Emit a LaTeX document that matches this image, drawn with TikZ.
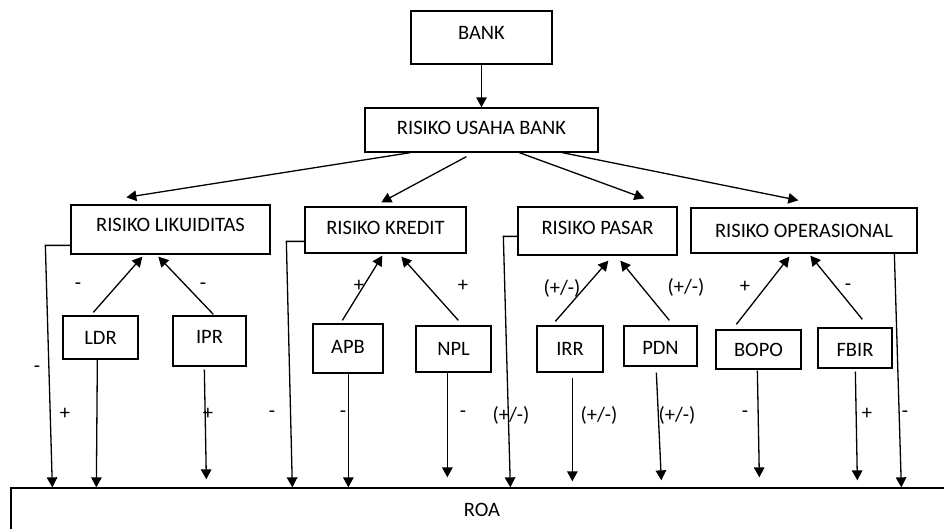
\documentclass[tikz,border=0pt]{standalone}
\usepackage{fontspec}
\setmainfont{Carlito}
\usetikzlibrary{arrows.meta}
\begin{document}
\begin{tikzpicture}[x=1pt,y=-1pt,
  box/.style={draw, line width=1.3pt, inner sep=0pt, font=\fontsize{20.5}{24}\selectfont},
  lbl/.style={inner sep=0pt, font=\fontsize{20.5}{24}\selectfont},
  arr/.style={line width=1.3pt, -{Triangle[length=10pt,width=10.5pt]}},
  ln/.style={line width=1.3pt}]
\clip (0,0) rectangle (944,528);
% boxes
\node[box, minimum width=141pt, minimum height=53pt, text depth=9pt] (bank) at (481.5,37.5) {BANK};
\node[box, minimum width=233pt, minimum height=44pt, text depth=4pt] (rub) at (481.5,130) {RISIKO USAHA BANK};
\node[box, minimum width=199pt, minimum height=49pt, text depth=9pt] (lik) at (170.5,229.5) {RISIKO LIKUIDITAS};
\node[box, minimum width=161pt, minimum height=46pt, text depth=4pt] (kre) at (385.5,230) {RISIKO KREDIT};
\node[box, minimum width=159pt, minimum height=48pt, text depth=6pt] (pas) at (597.5,231) {RISIKO PASAR};
\node[box, minimum width=226pt, minimum height=45pt] (ope) at (804,230.5) {RISIKO OPERASIONAL};
\node[box, minimum width=75pt, minimum height=43pt] (ldr) at (100.5,337.5) {LDR};
\node[box, minimum width=73pt, minimum height=50pt, text depth=8pt] (ipr) at (209.5,341) {IPR};
\node[box, minimum width=70pt, minimum height=49pt, text depth=4pt] (apb) at (348,348.5) {APB};
\node[box, minimum width=75pt, minimum height=46pt] (npl) at (453.5,349) {NPL};
\node[box, minimum width=66pt, minimum height=46pt] (irr) at (570,349) {IRR};
\node[box, minimum width=73pt, minimum height=40pt, text height=17pt] (pdn) at (660.5,346) {PDN};
\node[box, minimum width=85pt, minimum height=39pt] (bopo) at (758.5,349.5) {BOPO};
\node[box, minimum width=74pt, minimum height=40pt, text height=16pt] (fbir) at (855,348) {FBIR};
\node[box, minimum width=942pt, minimum height=44pt] (roa) at (482,510) {ROA};
% top arrows
\draw[arr] (bank.south) -- (rub.north);
\draw[arr] ([xshift=46pt]rub.south west) -- ([xshift=56pt,yshift=7pt]lik.north west);
\draw[arr] ([xshift=102pt,yshift=-4pt]rub.south west) -- ([xshift=77pt,yshift=4pt]kre.north west);
\draw[arr] ([xshift=155pt]rub.south west) -- ([xshift=127pt,yshift=8pt]pas.north west);
\draw[arr] ([xshift=198pt]rub.south west) -- ([xshift=108pt,yshift=7pt]ope.north west);
% level 3 -> level 2
\draw[arr] ([xshift=31pt,yshift=3pt]ldr.north west) -- ([xshift=72pt,yshift=-2pt]lik.south west);
\draw[arr] ([xshift=41pt,yshift=1pt]ipr.north west) -- ([xshift=88pt,yshift=-2pt]lik.south west);
\draw[arr] ([xshift=30pt,yshift=3pt]apb.north west) -- ([xshift=78pt,yshift=-2pt]kre.south west);
\draw[arr] ([xshift=43pt,yshift=5pt]npl.north west) -- ([xshift=97pt,yshift=-3pt]kre.south west);
\draw[arr] ([xshift=19pt,yshift=4pt]irr.north west) -- ([xshift=91pt,yshift=-5pt]pas.south west);
\draw[arr] ([xshift=46pt,yshift=5pt]pdn.north west) -- ([xshift=103pt,yshift=-5pt]pas.south west);
\draw[arr] ([xshift=21pt,yshift=5pt]bopo.north west) -- ([xshift=99pt,yshift=-3pt]ope.south west);
\draw[arr] ([xshift=45pt,yshift=8pt]fbir.north west) -- ([xshift=120pt,yshift=-2pt]ope.south west);
% down arrows to ROA
\draw[arr] ([yshift=-41pt]lik.north west) -- ++(-25,0) -- ([xshift=42pt]roa.north west);
\draw[arr] ([xshift=35pt]ldr.south west) -- ([xshift=86pt]roa.north west);
\draw[arr] ([xshift=32pt,yshift=-3pt]ipr.south west) -- ([xshift=196pt,yshift=8pt]roa.north west);
\draw[arr] ([yshift=-35pt]kre.north west) -- ++(-18,0) -- ([xshift=282pt]roa.north west);
\draw[arr] ([xshift=36pt]apb.south west) -- ([xshift=338pt]roa.north west);
\draw[arr] ([xshift=32pt]npl.south west) -- ([xshift=437pt,yshift=10pt]roa.north west);
\draw[arr] ([yshift=-30pt]pas.north west) -- ++(-14,0) -- ([xshift=500pt]roa.north west);
\draw[arr] ([xshift=36pt,yshift=-5pt]irr.south west) -- ([xshift=562pt,yshift=6pt]roa.north west);
\draw[arr] ([xshift=33pt,yshift=-6pt]pdn.south west) -- ([xshift=651pt,yshift=7pt]roa.north west);
\draw[arr] ([xshift=42pt,yshift=-1pt]bopo.south west) -- ([xshift=749pt,yshift=10pt]roa.north west);
\draw[arr] ([xshift=38pt,yshift=-3pt]fbir.south west) -- ([xshift=847pt,yshift=7pt]roa.north west);
\draw[arr] ([xshift=204pt]ope.south west) -- ([xshift=891pt]roa.north west);
% labels upper
\node[lbl] (l1) at (78,286) {-};
\node[lbl] (l2) at (203,286) {-};
\node[lbl] (l3) at (359,286) {+};
\node[lbl] (l4) at (463,286) {+};
\node[lbl] (l5) at (562,288) {(+/-)};
\node[lbl] (l6) at (686,287) {(+/-)};
\node[lbl] (l7) at (745,287) {+};
\node[lbl] (l8) at (848,287) {-};
% labels lower
\node[lbl] (m0) at (37,369) {-};
\node[lbl] (m1) at (65,414) {+};
\node[lbl] (m2) at (208,414) {+};
\node[lbl] (m3) at (272,414) {-};
\node[lbl] (m4) at (343,414) {-};
\node[lbl] (m5) at (463,414) {-};
\node[lbl] (m6) at (511,415) {(+/-)};
\node[lbl] (m7) at (599,415) {(+/-)};
\node[lbl] (m8) at (677,415) {(+/-)};
\node[lbl] (m9) at (745,414) {-};
\node[lbl] (m10) at (867,414) {+};
\node[lbl] (m11) at (905,414) {-};
\end{tikzpicture}
\end{document}
